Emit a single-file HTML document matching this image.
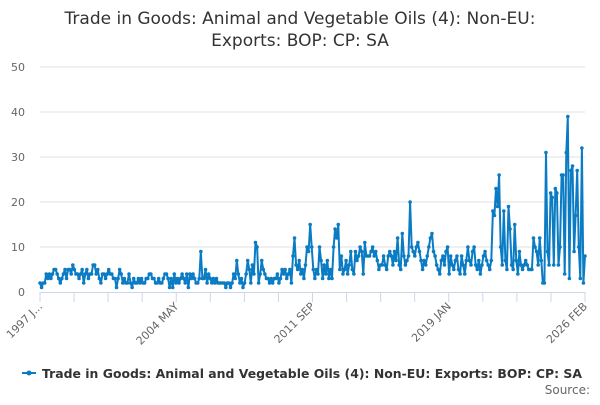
<!DOCTYPE html>
<html><head><meta charset="utf-8"><style>
body{margin:0;background:#fff;font-family:"Liberation Sans","DejaVu Sans",sans-serif}
</style></head><body>
<svg id="chart" width="600" height="400" xmlns="http://www.w3.org/2000/svg" font-family="'DejaVu Sans','Liberation Sans',sans-serif">
<text x="300" y="24" text-anchor="middle" font-size="17" fill="#333">Trade in Goods: Animal and Vegetable Oils (4): Non-EU:</text>
<text x="300" y="46" text-anchor="middle" font-size="17" fill="#333">Exports: BOP: CP: SA</text>
<g id="grid"></g><g id="axes"></g><g id="series"></g>
<g>
<line x1="22" y1="373" x2="36" y2="373" stroke="#0b7cc4" stroke-width="2"/>
<circle cx="29" cy="373" r="2.5" fill="#0b7cc4"/>
<text x="42" y="378" font-size="12.5" font-weight="bold" fill="#333" textLength="540" lengthAdjust="spacingAndGlyphs">Trade in Goods: Animal and Vegetable Oils (4): Non-EU: Exports: BOP: CP: SA</text>
</g>
<text x="590" y="394" text-anchor="end" font-size="12" fill="#666">Source:</text>
</svg>
<script>
const yTicks=[0,10,20,30,40,50];
const xLabels=["1997 J...","2004 MAY","2011 SEP","2019 JAN","2026 FEB"];
const values=[
2,1,2,2,4,3,4,3,4,5,5,4,
3,2,3,4,5,3,5,5,4,6,5,4,
4,3,4,5,2,4,5,3,4,4,6,6,
4,5,3,2,4,4,3,4,5,4,4,3,
3,1,3,5,4,2,3,2,2,4,2,1,
3,2,2,3,2,3,2,2,3,3,4,4,
3,3,2,2,3,2,2,3,4,4,3,1,
3,1,4,2,3,2,3,4,3,2,4,1,
4,3,4,3,2,2,3,9,3,3,5,2,
4,3,2,3,2,3,2,2,2,2,2,1,
2,2,1,2,4,3,7,4,2,3,1,2,
4,7,5,2,6,4,11,10,2,4,7,5,
4,3,3,2,3,2,3,3,4,2,3,5,
4,5,3,4,5,2,8,12,6,5,7,4,
5,3,6,10,9,15,10,5,3,5,4,10,
7,3,6,4,7,3,5,3,10,14,12,15,
5,8,4,5,7,4,6,9,5,4,9,7,
8,10,9,4,11,8,8,8,9,10,8,9,
7,5,6,6,8,6,5,8,9,8,6,9,
7,12,6,5,13,8,6,7,8,20,10,9,
8,10,11,9,7,5,7,6,8,10,12,13,
9,8,6,5,4,7,8,6,9,10,4,8,
6,5,7,8,5,4,8,6,4,7,10,7,
6,9,10,6,5,7,4,6,8,9,7,6,
5,7,18,17,23,19,26,10,6,18,7,5,
19,14,6,5,15,7,4,9,6,5,6,7,
6,5,5,5,12,10,9,6,12,7,2,2,
31,9,6,22,21,6,23,22,6,10,26,26,
4,31,39,3,27,28,9,17,27,10,3,32,
2,8];
const NS="http://www.w3.org/2000/svg";
const x0=40,x1=585,yb=292,yt=67,n=values.length;
const xs=i=>x0+(x1-x0)*i/(n-1);
const ys=v=>yb-(yb-yt)*v/50;
function mk(t,a,p){const e=document.createElementNS(NS,t);for(const k in a)e.setAttribute(k,a[k]);p.appendChild(e);return e;}
const grid=document.getElementById('grid'),axes=document.getElementById('axes'),ser=document.getElementById('series');
yTicks.forEach(v=>{
 if(v>0){const g=mk('line',{x1:x0,x2:x1,y1:ys(v),y2:ys(v),stroke:'#e0e0e0'},grid);
 
 }
 const t=mk('text',{x:25,y:ys(v)+4,'text-anchor':'end','font-size':11,fill:'#666'},axes);t.textContent=v;
 
 
});
const ax=mk('line',{x1:x0,x2:x1,y1:yb+0.5,y2:yb+0.5,stroke:'#ccd6eb'},axes);


for(let k=0;k<=16;k++){const x=x0+(x1-x0)*k/16;
 const tk=mk('line',{x1:x,x2:x,y1:yb,y2:yb+10,stroke:'#ccd6eb'},axes);
 
 
 if(k%4===0){const t=mk('text',{x:x+3,y:yb+15,'text-anchor':'end','font-size':11,fill:'#666',transform:`rotate(-45 ${x+3} ${yb+15})`},axes);
 t.textContent=xLabels[k/4];
 
 }
}
const pl=mk('polyline',{points:values.map((v,i)=>xs(i).toFixed(1)+','+ys(v).toFixed(1)).join(' '),fill:'none',stroke:'#0b7cc4','stroke-width':2,'stroke-linejoin':'round'},ser);


values.forEach((v,i)=>{const c=mk('circle',{cx:xs(i),cy:ys(v),r:1.8,fill:'#0b7cc4'},ser);
 
 });
</script>
</body></html>
